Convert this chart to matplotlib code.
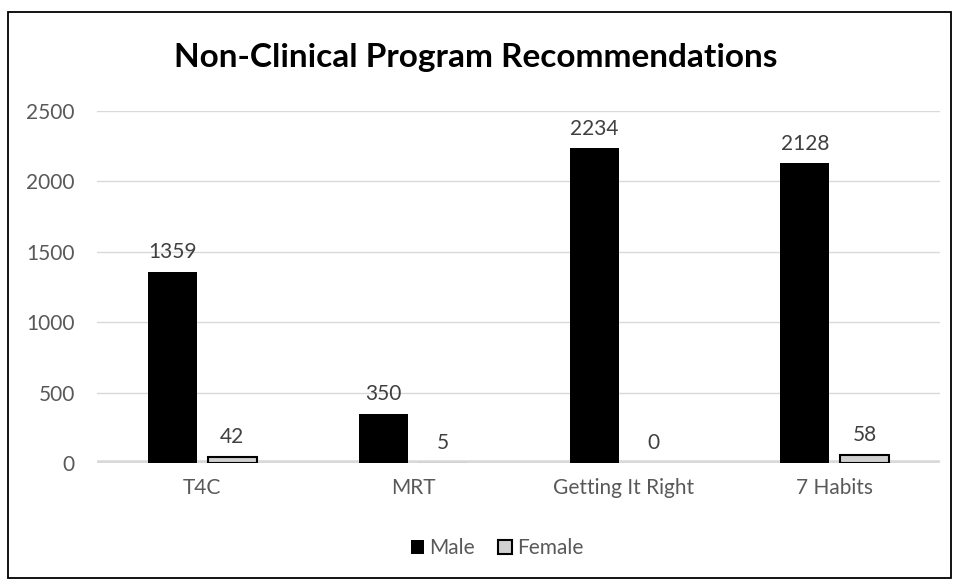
import matplotlib
matplotlib.use("Agg")
import matplotlib.pyplot as plt
import numpy as np
from matplotlib.patches import Rectangle

categories = ["T4C", "MRT", "Getting It Right", "7 Habits"]
male = [1359, 350, 2234, 2128]
female = [42, 5, 0, 58]
yticks = [0, 500, 1000, 1500, 2000, 2500]

plt.rcParams['font.family'] = ['Lato', 'DejaVu Sans']

fig = plt.figure(figsize=(9.59, 5.83), dpi=100)
fig.patches.append(Rectangle((8/959, 5/583), 943/959, 566/583, transform=fig.transFigure,
                             fill=False, edgecolor='black', linewidth=1.3))
ax = fig.add_axes([97/959, 120/583, 843/959, 352/583])

x = np.arange(len(categories))
w = 0.233
gap = 0.05
b1 = ax.bar(x - (w + gap)/2, male, w, color='black', zorder=3)
edges = ['black' if v >= 20 else 'none' for v in female]
b2 = ax.bar(x + (w + gap)/2, female, w, color='#d0d0d0', edgecolor=edges, linewidth=1.5, zorder=3)

for rect, v in zip(b1, male):
    ax.annotate(str(v), (rect.get_x() + rect.get_width()/2, v), xytext=(0, 7),
                textcoords='offset points', ha='center', va='bottom', fontsize=15, color='#404040')
for rect, v in zip(b2, female):
    ax.annotate(str(v), (rect.get_x() + rect.get_width()/2, v), xytext=(0, 7),
                textcoords='offset points', ha='center', va='bottom', fontsize=15, color='#404040')

ax.set_xlim(-0.5, len(categories) - 0.5)
ax.set_ylim(0, 2500)
ax.set_yticks(yticks)
ax.set_xticks(x)
ax.set_xticklabels(categories)
ax.yaxis.grid(True, color='#d9d9d9', linewidth=1, zorder=0)
ax.axhline(0, color='#d9d9d9', linewidth=4, zorder=2)
for s in ax.spines.values():
    s.set_visible(False)
ax.tick_params(axis='both', length=0, labelsize=15, labelcolor='#595959')
ax.tick_params(axis='x', pad=11)
ax.tick_params(axis='y', pad=16)

fig.text(476/959, 1 - 58/583, "Non-Clinical Program Recommendations", ha='center', va='center',
         fontsize=24, fontweight='bold', color='black')

leg = fig.legend([b1, b2], ["Male", "Female"], loc='center', bbox_to_anchor=(497/959, 1 - 548/583),
                 ncol=2, frameon=False, fontsize=15, handlelength=0.65, handleheight=0.65,
                 handletextpad=0.25, columnspacing=1.1)
for t in leg.get_texts():
    t.set_color('#595959')
leg.legend_handles[1].set_edgecolor('black')

fig.savefig("out.png", dpi=100)
